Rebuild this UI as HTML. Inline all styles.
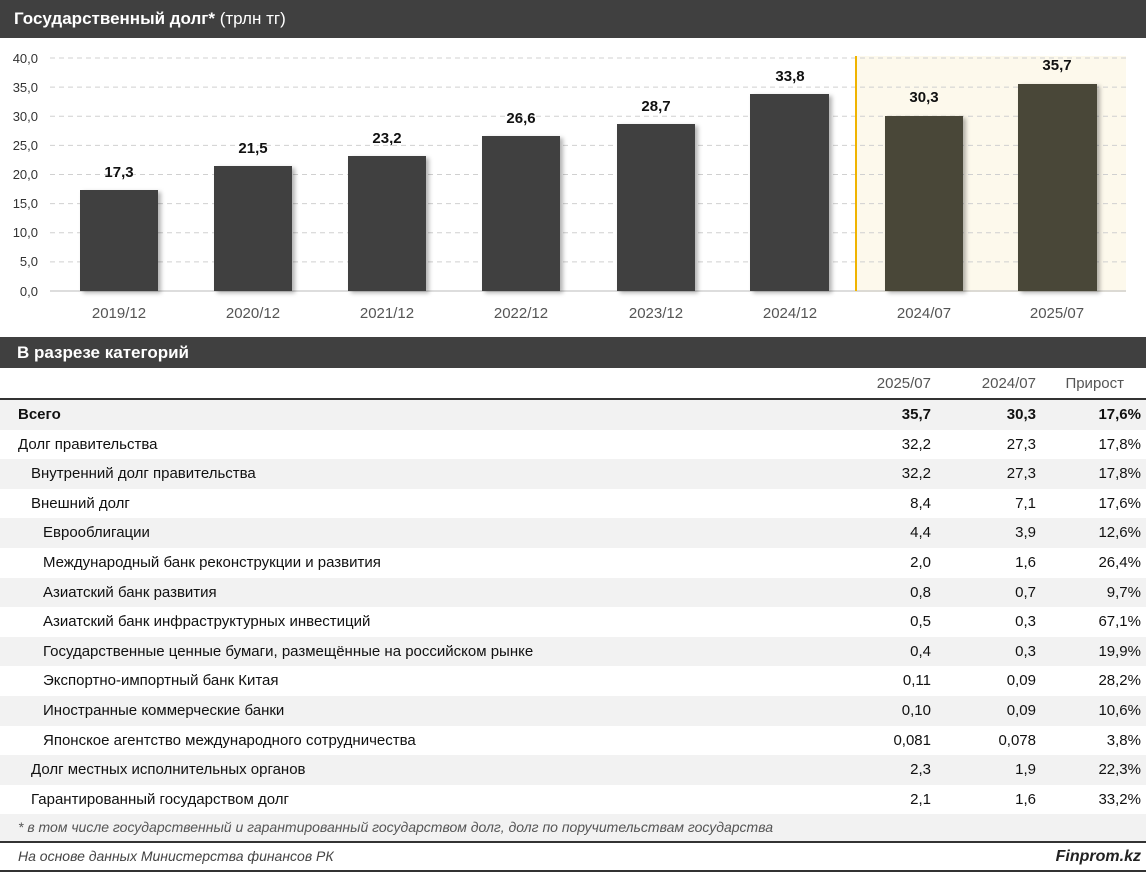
<!DOCTYPE html>
<html><head><meta charset="utf-8"><style>
body{margin:0;width:1146px;height:872px;background:#fff;font-family:"Liberation Sans",sans-serif;position:relative;overflow:hidden;color:#111}
.bar{position:absolute;left:0;width:1146px;background:#404040;color:#fff;font-weight:bold;font-size:17px}
.row{position:absolute;left:0;width:1146px;height:29.6px;font-size:15px;line-height:29.6px}
.row.g{background:#f2f2f2}
.row span{position:absolute}
.c1{right:215px}.c2{right:110px}.c3{right:5px}
</style></head><body>
<div class="bar" style="top:0;height:38px;line-height:38px;padding-left:14px;box-sizing:border-box">Государственный долг* <span style="font-weight:normal">(трлн тг)</span></div>
<svg width="1146" height="299" style="position:absolute;top:38px;left:0" font-family="Liberation Sans, sans-serif">
<defs><filter id="s" x="-20%" y="-20%" width="140%" height="140%"><feDropShadow dx="3" dy="2" stdDeviation="2" flood-opacity="0.3"/></filter></defs>
<rect x="856" y="18" width="270" height="236" fill="#fdf9ec"/>
<g stroke="#d0d0d0" stroke-dasharray="5,4">
<line x1="50" x2="1126" y1="20" y2="20"/><line x1="50" x2="1126" y1="49.1" y2="49.1"/><line x1="50" x2="1126" y1="78.3" y2="78.3"/><line x1="50" x2="1126" y1="107.4" y2="107.4"/><line x1="50" x2="1126" y1="136.5" y2="136.5"/><line x1="50" x2="1126" y1="165.6" y2="165.6"/><line x1="50" x2="1126" y1="194.8" y2="194.8"/><line x1="50" x2="1126" y1="223.9" y2="223.9"/>
</g>
<line x1="50" x2="1126" y1="253" y2="253" stroke="#bbb"/>
<line x1="856" x2="856" y1="18" y2="253" stroke="#f0b400" stroke-width="2"/>
<g font-size="13" fill="#333" text-anchor="end">
<text x="38" y="25">40,0</text><text x="38" y="54">35,0</text><text x="38" y="83">30,0</text><text x="38" y="112">25,0</text><text x="38" y="141">20,0</text><text x="38" y="170">15,0</text><text x="38" y="199">10,0</text><text x="38" y="228">5,0</text><text x="38" y="258">0,0</text>
</g>
<g filter="url(#s)">
<rect x="80" y="152" width="78" height="101" fill="#404040"/>
<rect x="214" y="128" width="78" height="125" fill="#404040"/>
<rect x="348" y="118" width="78" height="135" fill="#404040"/>
<rect x="482" y="98" width="78" height="155" fill="#404040"/>
<rect x="617" y="86" width="78" height="167" fill="#404040"/>
<rect x="750" y="56" width="79" height="197" fill="#404040"/>
<rect x="885" y="78" width="78" height="175" fill="#4a4738"/>
<rect x="1018" y="46" width="79" height="207" fill="#4a4738"/>
</g>
<g font-size="15" font-weight="bold" text-anchor="middle" fill="#111">
<text x="119" y="139">17,3</text><text x="253" y="115">21,5</text><text x="387" y="105">23,2</text><text x="521" y="85">26,6</text><text x="656" y="73">28,7</text><text x="790" y="43">33,8</text><text x="924" y="64">30,3</text><text x="1057" y="32">35,7</text>
</g>
<g font-size="15" text-anchor="middle" fill="#555">
<text x="119" y="280">2019/12</text><text x="253" y="280">2020/12</text><text x="387" y="280">2021/12</text><text x="521" y="280">2022/12</text><text x="656" y="280">2023/12</text><text x="790" y="280">2024/12</text><text x="924" y="280">2024/07</text><text x="1057" y="280">2025/07</text>
</g>
</svg>
<div class="bar" style="top:337px;height:31px;line-height:31px;padding-left:17px;box-sizing:border-box">В разрезе категорий</div>
<div class="row" style="top:369px;color:#555"><span class="c1">2025/07</span><span class="c2">2024/07</span><span class="c3" style="right:22px">Прирост</span></div>
<div style="position:absolute;top:398px;left:0;width:1146px;height:2px;background:#333"></div>
<div class="row g" style="top:400px;font-weight:bold"><span style="left:18px">Всего</span><span class="c1">35,7</span><span class="c2">30,3</span><span class="c3">17,6%</span></div>
<div class="row" style="top:429.6px"><span style="left:18px">Долг правительства</span><span class="c1">32,2</span><span class="c2">27,3</span><span class="c3">17,8%</span></div>
<div class="row g" style="top:459.2px"><span style="left:31px">Внутренний долг правительства</span><span class="c1">32,2</span><span class="c2">27,3</span><span class="c3">17,8%</span></div>
<div class="row" style="top:488.8px"><span style="left:31px">Внешний долг</span><span class="c1">8,4</span><span class="c2">7,1</span><span class="c3">17,6%</span></div>
<div class="row g" style="top:518.4px"><span style="left:43px">Еврооблигации</span><span class="c1">4,4</span><span class="c2">3,9</span><span class="c3">12,6%</span></div>
<div class="row" style="top:548px"><span style="left:43px">Международный банк реконструкции и развития</span><span class="c1">2,0</span><span class="c2">1,6</span><span class="c3">26,4%</span></div>
<div class="row g" style="top:577.6px"><span style="left:43px">Азиатский банк развития</span><span class="c1">0,8</span><span class="c2">0,7</span><span class="c3">9,7%</span></div>
<div class="row" style="top:607.2px"><span style="left:43px">Азиатский банк инфраструктурных инвестиций</span><span class="c1">0,5</span><span class="c2">0,3</span><span class="c3">67,1%</span></div>
<div class="row g" style="top:636.8px"><span style="left:43px">Государственные ценные бумаги, размещённые на российском рынке</span><span class="c1">0,4</span><span class="c2">0,3</span><span class="c3">19,9%</span></div>
<div class="row" style="top:666.4px"><span style="left:43px">Экспортно-импортный банк Китая</span><span class="c1">0,11</span><span class="c2">0,09</span><span class="c3">28,2%</span></div>
<div class="row g" style="top:696px"><span style="left:43px">Иностранные коммерческие банки</span><span class="c1">0,10</span><span class="c2">0,09</span><span class="c3">10,6%</span></div>
<div class="row" style="top:725.6px"><span style="left:43px">Японское агентство международного сотрудничества</span><span class="c1">0,081</span><span class="c2">0,078</span><span class="c3">3,8%</span></div>
<div class="row g" style="top:755.2px"><span style="left:31px">Долг местных исполнительных органов</span><span class="c1">2,3</span><span class="c2">1,9</span><span class="c3">22,3%</span></div>
<div class="row" style="top:784.8px"><span style="left:31px">Гарантированный государством долг</span><span class="c1">2,1</span><span class="c2">1,6</span><span class="c3">33,2%</span></div>
<div class="row g" style="top:814px;height:27px;line-height:27px;font-style:italic;font-size:14px;color:#555"><span style="left:18px">* в том числе государственный и гарантированный государством долг, долг по поручительствам государства</span></div>
<div style="position:absolute;top:841px;left:0;width:1146px;height:2px;background:#333"></div>
<div class="row" style="top:843px;height:27px;line-height:27px;font-style:italic;font-size:14px;color:#444"><span style="left:18px">На основе данных Министерства финансов РК</span><span class="c3" style="font-weight:bold;font-size:16px;color:#222">Finprom.kz</span></div>
<div style="position:absolute;top:870px;left:0;width:1146px;height:2px;background:#333"></div>
</body></html>
